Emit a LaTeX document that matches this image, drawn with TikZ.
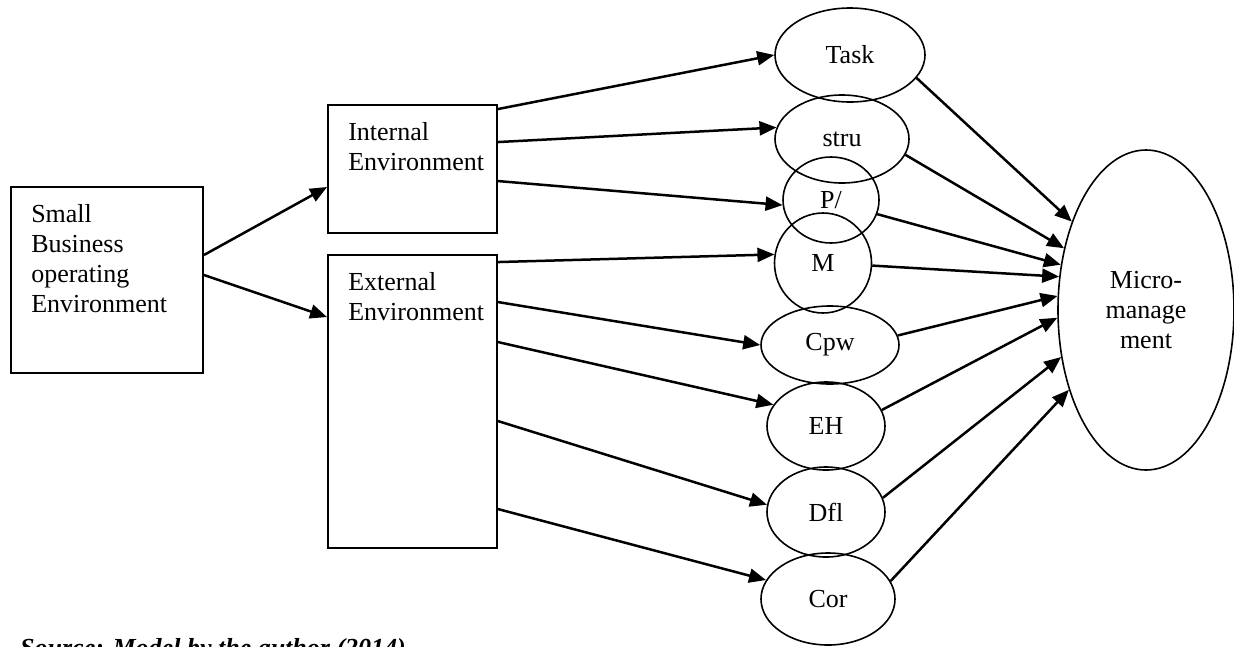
\documentclass[tikz,border=0pt]{standalone}
\usepackage{fontspec}
\setmainfont{Liberation Serif}
\usetikzlibrary{shapes.geometric,arrows.meta}
\tikzset{
  box/.style={draw,line width=1.9pt,inner sep=0pt},
  boxtext/.style={anchor=north west,align=left,inner sep=0pt},
  oval/.style={draw,ellipse,line width=1.6pt,inner sep=0pt},
  arr/.style={line width=2.5pt,-{Triangle[length=17pt,width=14pt]}},
}
\begin{document}
\begin{tikzpicture}[x=1pt,y=-1pt,font=\fontsize{26}{30}\selectfont]
  \useasboundingbox (0,0) rectangle (1234,646);
  % boxes on the left
  \node[box,minimum width=192pt,minimum height=186pt] (sbe) at (107,280) {};
  \node[box,minimum width=169pt,minimum height=128pt] (intl) at (412.5,169) {};
  \node[box,minimum width=169pt,minimum height=293pt] (ext) at (412.5,401.5) {};
  \node[boxtext] (sbetxt) at ([xshift=21pt,yshift=-18pt]sbe.north west) {Small\\Business\\operating\\Environment};
  \node[boxtext] (intltxt) at ([xshift=21pt,yshift=-18pt]intl.north west) {Internal\\Environment};
  \node[boxtext] (exttxt) at ([xshift=21pt,yshift=-18pt]ext.north west) {External\\Environment};
  % factors
  \node[oval,minimum width=150pt,minimum height=94pt] (task) at (850,55) {Task};
  \node[oval,minimum width=134pt,minimum height=88pt] (stru) at (842,139) {stru};
  \node[oval,minimum width=96pt,minimum height=86pt] (pm) at (831,200) {P/};
  \node[oval,minimum width=97pt,minimum height=100pt] (m) at (823,263) {M};
  \node[oval,minimum width=138pt,minimum height=78pt] (cpw) at (830,345) {Cpw};
  \node[oval,minimum width=118pt,minimum height=88pt] (eh) at (826,426) {EH};
  \node[oval,minimum width=118pt,minimum height=90pt] (dfl) at (826,512) {Dfl};
  \node[oval,minimum width=134pt,minimum height=92pt] (cor) at (828,599) {Cor};
  \node[oval,minimum width=176pt,minimum height=320pt,align=center] (micro) at (1146,310) {Micro-\\manage\\ment};
  % arrows
  \draw[arr] ([yshift=25pt]sbe.east) -- ([yshift=-18pt]intl.west);
  \draw[arr] ([yshift=5pt]sbe.east) -- ([yshift=-63pt]ext.north west);
  \draw[arr] ([yshift=-5pt]intl.north east) -- (task.west);
  \draw[arr] ([yshift=-38pt]intl.north east) -- (stru.170);
  \draw[arr] ([yshift=-77pt]intl.north east) -- (pm.186);
  \draw[arr] ([yshift=-8pt]ext.north east) -- (m.170);
  \draw[arr] ([yshift=-48pt]ext.north east) -- (cpw.west);
  \draw[arr] ([yshift=-88pt]ext.north east) -- (eh.158);
  \draw[arr] ([yshift=-167pt]ext.north east) -- (dfl.173);
  \draw[arr] ([yshift=-255pt]ext.north east) -- (cor.163);
  \draw[arr] (task.-19) -- (micro.130);
  \draw[arr] (stru.-14) -- (micro.143);
  \draw[arr] (pm.-17) -- (micro.152);
  \draw[arr] (m.-3) -- (micro.159);
  \draw[arr] (cpw.8) -- (micro.171);
  \draw[arr] (eh.16) -- (micro.185);
  \draw[arr] (dfl.14) -- (micro.209);
  \draw[arr] (cor.16) -- (micro.226);
  % source line, cut by the page edge
  \node[anchor=base west,inner sep=0pt,font=\fontsize{26}{30}\selectfont\bfseries\itshape] (src) at (20,656) {Source: Model by the author (2014)};
\end{tikzpicture}
\end{document}
